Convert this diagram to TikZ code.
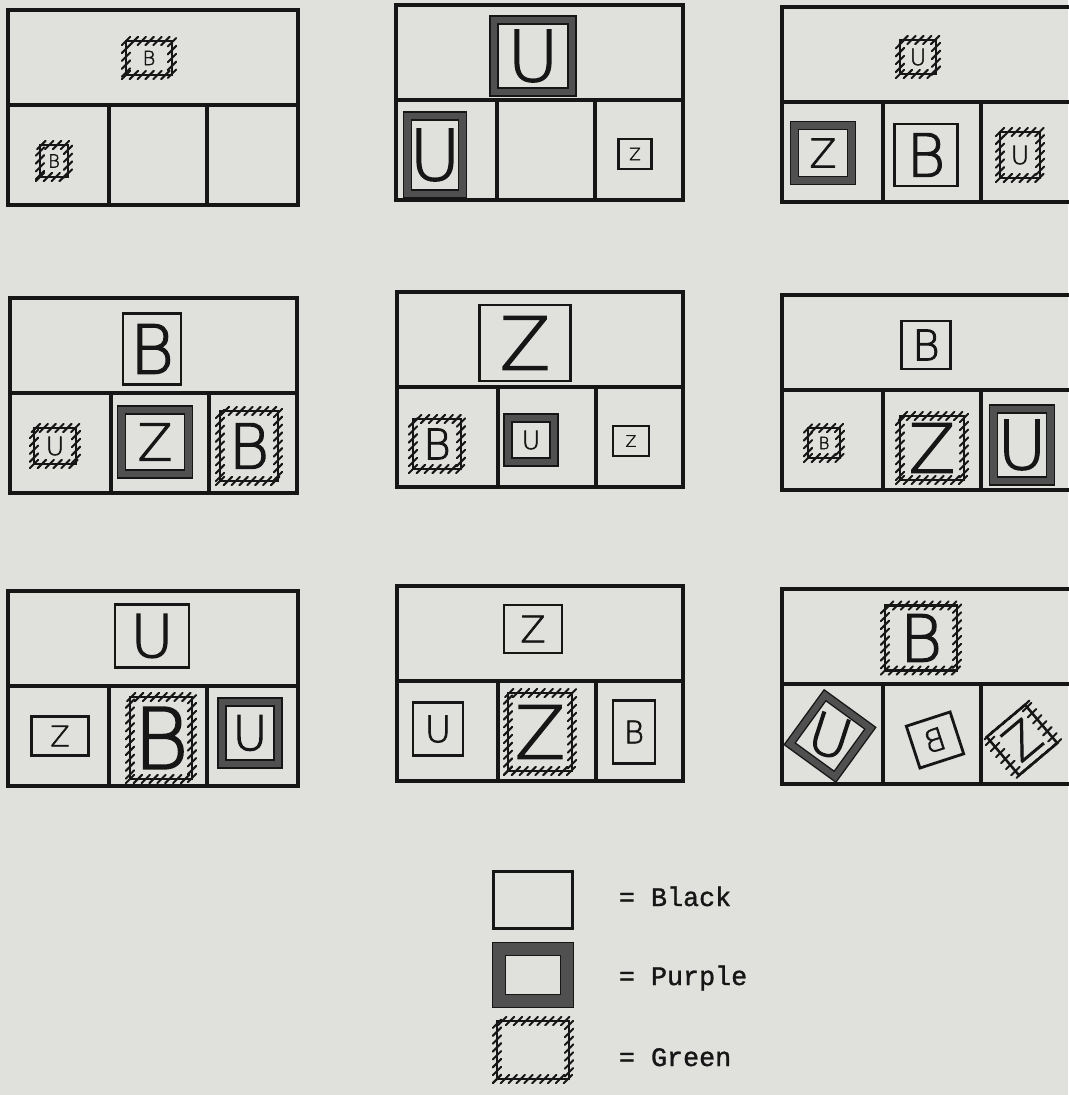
\documentclass[tikz,border=0pt]{standalone}
\usepackage{fontspec}
\setmainfont{DejaVu Sans ExtraLight}[FakeBold=2.2]
\newfontfamily\typewriter[FakeBold=1.2]{Liberation Mono}
\usepackage{graphicx}
\usetikzlibrary{decorations.markings}
\definecolor{paper}{HTML}{E0E0DD}
\definecolor{ink}{HTML}{161616}
\definecolor{mpurple}{HTML}{505050}
\tikzset{
  card/.style={inner sep=0pt, text=ink},
  cardsize/.style 2 args={minimum width=#1*0.025cm, minimum height=#2*0.025cm},
  blackcard/.style={card, draw=ink, line width=2pt},
  purplecard/.style={card, draw=mpurple, line width=4.5pt,
                     preaction={draw=ink, line width=6.5pt}},
  greencard/.style={card, draw=ink, line width=1.8pt,
    postaction={decorate, decoration={markings,
      mark=between positions 0 and 1 step 5.6pt with
        {\pgftransformresetnontranslations
         \draw[ink, line width=1.4pt, line cap=round] (-3pt,-3pt) -- (3pt,3pt);}}}},
  lsize/.style={font=\fontsize{#1}{#1}\selectfont},
  frame/.style={draw=ink, line width=2.2pt},
  divider/.style={draw=ink, line width=3.2pt},
  keytext/.style={anchor=base west, text=ink, font=\typewriter\fontsize{19}{19}\selectfont},
}

\begin{document}
\begin{tikzpicture}[x=0.025cm, y=-0.025cm]
  \useasboundingbox (0,0) rectangle (1068,1095);
  \fill[paper] (0,0) rectangle (1068,1095);

  % panels: top field and three cells below
  \foreach \x/\y/\w in {8/10/290, 396/5/287, 782/7/300,
                        10/298/287, 397/292/286, 782/295/300,
                        8/591/290, 397/586/286, 782/589/300} {
    \draw[frame] (\x,\y) rectangle ++(\w,195);
    \draw[divider] (\x,\y+95) -- ++(\w,0);
    \draw[frame] (\x+101,\y+95) -- ++(0,100) (\x+199,\y+95) -- ++(0,100);
  }

  % row 1
  \node[greencard, cardsize={46}{34}, lsize=14] (p1top) at (149,58) {B};
  \node[greencard, cardsize={28}{32}, lsize=13] (p1a) at (54,161) {B};

  \node[purplecard, cardsize={78}{72}, lsize=50] (p2top) at (533,56) {U};
  \node[purplecard, cardsize={55}{78}, lsize=50] (p2a) at (435,155) {U};
  \node[blackcard, cardsize={33}{30}, lsize=12] (p2c) at (635,154) {Z};

  \node[greencard, cardsize={36}{34}, lsize=16] (p3top) at (918,57) {U};
  \node[purplecard, cardsize={57}{55}, lsize=28] (p3a) at (823,153) {Z};
  \node[blackcard, cardsize={63}{62}, lsize=42] (p3b) at (926,155) {B};
  \node[greencard, cardsize={40}{46}, lsize=18] (p3c) at (1020,155) {U};

  % row 2
  \node[blackcard, cardsize={58}{71}, lsize=48] (p4top) at (152,349) {B};
  \node[greencard, cardsize={42}{36}, lsize=18] (p4a) at (55,446) {U};
  \node[purplecard, cardsize={67}{64}, lsize=36] (p4b) at (155,442) {Z};
  \node[greencard, cardsize={58}{70}, lsize=44] (p4c) at (249,446) {B};

  \node[blackcard, cardsize={91}{76}, lsize=52] (p5top) at (525,343) {Z};
  \node[greencard, cardsize={48}{50}, lsize=30] (p5a) at (437,444) {B};
  \node[purplecard, cardsize={46}{44}, lsize=18] (p5b) at (531,440) {U};
  \node[blackcard, cardsize={36}{30}, lsize=11] (p5c) at (631,441) {Z};

  \node[blackcard, cardsize={49}{48}, lsize=30] (p6top) at (926,345) {B};
  \node[greencard, cardsize={32}{30}, lsize=12] (p6a) at (824,443) {B};
  \node[greencard, cardsize={64}{64}, lsize=48] (p6b) at (932,448) {Z};
  \node[purplecard, cardsize={57}{72}, lsize=48] (p6c) at (1022,445) {U};

  % row 3
  \node[blackcard, cardsize={74}{63}, lsize=42] (p7top) at (152,636) {U};
  \node[blackcard, cardsize={57}{39}, lsize=20] (p7a) at (60,736) {Z};
  \node[greencard, cardsize={62}{82}, lsize=60] (p7b) at (161,738) {B};
  \node[purplecard, cardsize={56}{62}, lsize=34] (p7c) at (250,733) {U};

  \node[blackcard, cardsize={58}{48}, lsize=26] (p8top) at (533,629) {Z};
  \node[blackcard, cardsize={50}{53}, lsize=26] (p8a) at (438,729) {U};
  \node[greencard, cardsize={64}{78}, lsize=52] (p8b) at (540,732) {Z};
  \node[blackcard, cardsize={42}{63}, lsize=22] (p8c) at (634,732) {B};

  \node[greencard, cardsize={72}{65}, lsize=46] (p9top) at (921,638) {B};
  \node[purplecard, cardsize={56}{60}, lsize=40, rotate=-36] (p9a) at (830,736)
    {\rotatebox[origin=c]{18}{U}};
  \node[blackcard, cardsize={46}{44}, lsize=22, rotate=18] (p9b) at (935,740)
    {\scalebox{-1}[1]{B}};
  \node[greencard, cardsize={50}{50}, lsize=34, rotate=40] (p9c) at (1022,740) {Z};

  % key
  \node[blackcard, cardsize={79}{57}] (keyblack) at (533,900) {};
  \node[purplecard, cardsize={68}{52}, line width=8pt,
        preaction={draw=ink, line width=10pt}] (keypurple) at (533,975) {};
  \node[greencard, cardsize={72}{58}] (keygreen) at (533,1050) {};
  \node[keytext] (txtblack) at (614,906) {= Black};
  \node[keytext] (txtpurple) at (614,985) {= Purple};
  \node[keytext] (txtgreen) at (614,1066) {= Green};
\end{tikzpicture}
\end{document}
